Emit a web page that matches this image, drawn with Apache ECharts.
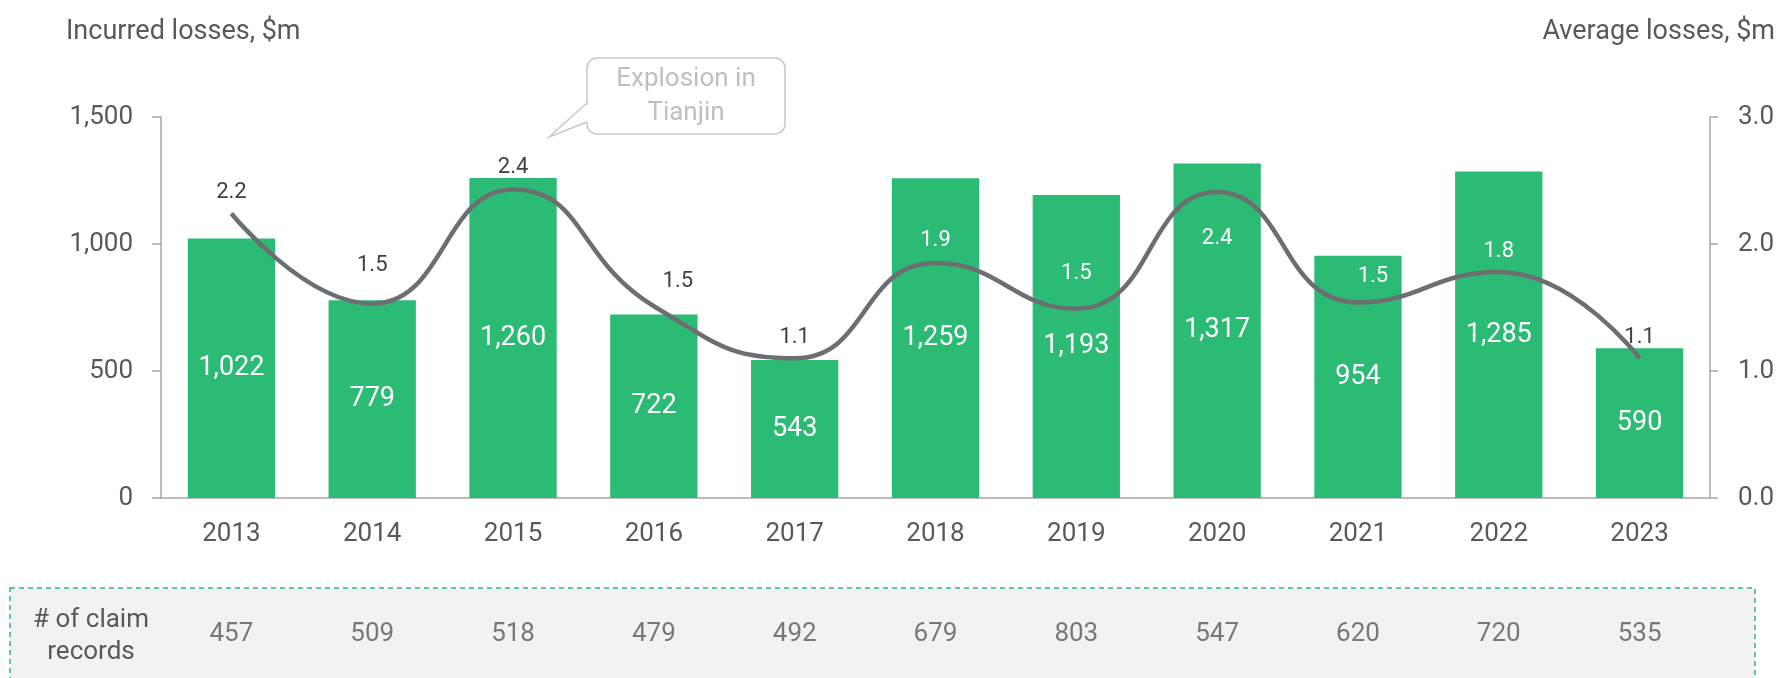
<!DOCTYPE html>
<html>
<head>
<meta charset="utf-8">
<title>Incurred losses</title>
<script src="https://cdn.jsdelivr.net/npm/echarts@6/dist/echarts.min.js"></script>
<style>
  html, body { margin: 0; padding: 0; background: #fff; }
  #chart { width: 1782px; height: 678px; }
</style>
</head>
<body>
<div id="chart"></div>
<script>
// 年份
var years = ['2013', '2014', '2015', '2016', '2017', '2018', '2019', '2020', '2021', '2022', '2023']
// 赔付损失 $m
var incurred = [1022, 779, 1260, 722, 543, 1259, 1193, 1317, 954, 1285, 590]
// 平均损失 $m
var average = [2.24, 1.53, 2.43, 1.51, 1.10, 1.85, 1.49, 2.41, 1.54, 1.78, 1.10]
// 理赔记录数
var claims = [457, 509, 518, 479, 492, 679, 803, 547, 620, 720, 535]
// 左右轴刻度
var leftTicks = { min: 0, max: 1500, step: 500 }
var rightTicks = { min: 0, max: 3, step: 1 }

var FONT = 'Roboto'
var GREEN = '#2bbb74'
var GREY_TXT = '#595959'
var AXIS = '#a6a6a6'

// 折线标签的摆放 (位置 / 偏移 / 颜色)
var lineLabelStyle = [
  { pos: 'top', d: 10, dx: 0, color: '#404040' },
  { pos: 'top', d: 27, dx: 0, color: '#404040' },
  { pos: 'top', d: 10, dx: 0, color: '#404040' },
  { pos: 'top', d: 13, dx: 24, color: '#404040' },
  { pos: 'top', d: 9, dx: 0, color: '#404040' },
  { pos: 'top', d: 11, dx: 0, color: '#ffffff' },
  { pos: 'top', d: 24, dx: 0, color: '#ffffff' },
  { pos: 'bottom', d: 35, dx: 0, color: '#ffffff' },
  { pos: 'top', d: 14, dx: 15, color: '#ffffff' },
  { pos: 'top', d: 9, dx: 0, color: '#ffffff' },
  { pos: 'top', d: 9, dx: 0, color: '#404040' }
]

var lineData = average.map(function (v, i) {
  var s = lineLabelStyle[i]
  return {
    value: v,
    label: { show: true, position: s.pos, distance: s.d, offset: [s.dx, 0], color: s.color }
  }
})

var claimData = claims.map(function (v, i) {
  return [i, 0.5, v]
})

var myChart = echarts.init(document.getElementById('chart'))

var option = {
  animation: false,
  textStyle: { fontFamily: FONT },
  title: [
    {
      text: 'Incurred losses, $m',
      left: 66, top: 19, padding: 0,
      textStyle: { fontFamily: FONT, fontSize: 27, fontWeight: 'normal', color: GREY_TXT }
    },
    {
      text: 'Average losses, $m',
      right: 7, top: 19, padding: 0,
      textStyle: { fontFamily: FONT, fontSize: 27, fontWeight: 'normal', color: GREY_TXT }
    }
  ],
  grid: [
    { left: 161, right: 72, top: 117, bottom: 180, containLabel: false },
    { left: 161, right: 72, top: 600, height: 68, containLabel: false }
  ],
  xAxis: [
    {
      type: 'category',
      gridIndex: 0,
      data: years,
      axisLine: { lineStyle: { color: AXIS, width: 1.5 } },
      axisTick: { length: 8, lineStyle: { color: AXIS, width: 1.5 } },
      axisLabel: { color: GREY_TXT, fontSize: 26, margin: 23, fontFamily: FONT }
    },
    {
      type: 'category',
      gridIndex: 1,
      data: years,
      show: false
    }
  ],
  yAxis: [
    {
      type: 'value',
      gridIndex: 0,
      min: leftTicks.min, max: leftTicks.max, interval: leftTicks.step,
      splitLine: { show: false },
      axisLine: { show: true, lineStyle: { color: AXIS, width: 1.5 } },
      axisTick: { show: true, length: 9, lineStyle: { color: AXIS, width: 1.5 } },
      axisLabel: {
        color: GREY_TXT, fontSize: 26, margin: 28, fontFamily: FONT,
        formatter: function (v) { return v.toLocaleString('en-US') }
      }
    },
    {
      type: 'value',
      gridIndex: 0,
      position: 'right',
      min: rightTicks.min, max: rightTicks.max, interval: rightTicks.step,
      splitLine: { show: false },
      axisLine: { show: true, lineStyle: { color: AXIS, width: 1.5 } },
      axisTick: { show: true, length: 8, lineStyle: { color: AXIS, width: 1.5 } },
      axisLabel: {
        color: GREY_TXT, fontSize: 26, margin: 28, fontFamily: FONT,
        formatter: function (v) { return v.toFixed(1) }
      }
    },
    {
      type: 'value',
      gridIndex: 1,
      min: 0, max: 1,
      show: false
    }
  ],
  series: [
    {
      name: 'Incurred losses',
      type: 'bar',
      xAxisIndex: 0, yAxisIndex: 0,
      data: incurred,
      barWidth: '62%',
      itemStyle: { color: GREEN },
      label: {
        show: true,
        position: 'inside',
        color: '#ffffff',
        fontSize: 27,
        fontFamily: FONT,
        formatter: function (p) { return p.value.toLocaleString('en-US') }
      },
      z: 2
    },
    {
      name: 'Average losses',
      type: 'line',
      xAxisIndex: 0, yAxisIndex: 1,
      data: lineData,
      smooth: 0.5,
      symbol: 'circle',
      symbolSize: 1,
      showSymbol: true,
      itemStyle: { color: '#6d6e71' },
      lineStyle: { color: '#6d6e71', width: 4.5 },
      label: {
        show: true,
        fontSize: 22,
        fontFamily: FONT,
        formatter: function (p) { return p.value.toFixed(1) }
      },
      z: 3
    },
    {
      // 理赔记录数 (底部表格)
      name: '# of claim records',
      type: 'scatter',
      xAxisIndex: 1, yAxisIndex: 2,
      data: claimData,
      symbolSize: 0,
      label: {
        show: true,
        position: 'inside',
        color: GREY_TXT,
        fontSize: 26,
        fontFamily: FONT,
        formatter: function (p) { return p.value[2] }
      },
      z: 5
    }
  ],
  graphic: [
    // 表格背景 虚线框
    {
      type: 'rect',
      z: 0,
      shape: { x: 10, y: 588, width: 1745, height: 120 },
      style: { fill: '#f2f2f2', stroke: GREEN, lineWidth: 1.5, lineDash: [5, 4] }
    },
    {
      type: 'text',
      z: 1,
      x: 91, y: 636,
      style: {
        text: '# of claim\nrecords',
        fill: GREY_TXT,
        font: '26px ' + FONT,
        align: 'center',
        verticalAlign: 'middle',
        lineHeight: 32
      }
    },
    // 注释气泡
    {
      type: 'rect',
      z: 10,
      shape: { x: 587, y: 58, width: 198, height: 76, r: 10 },
      style: { fill: '#ffffff', stroke: '#c8c8c8', lineWidth: 1.5 }
    },
    {
      type: 'polygon',
      z: 11,
      shape: { points: [[589, 103], [589, 122], [549, 137]] },
      style: { fill: '#ffffff', stroke: null }
    },
    {
      type: 'polyline',
      z: 12,
      shape: { points: [[587, 103], [549, 137], [587, 122]] },
      style: { stroke: '#c8c8c8', lineWidth: 1.5, fill: null }
    },
    {
      type: 'text',
      z: 13,
      x: 686, y: 96,
      style: {
        text: 'Explosion in\nTianjin',
        fill: '#bfbfbf',
        font: '26px ' + FONT,
        align: 'center',
        verticalAlign: 'middle',
        lineHeight: 34
      }
    }
  ]
}

myChart.setOption(option)
window.addEventListener('resize', function () {
  myChart.resize()
})
</script>
</body>
</html>
